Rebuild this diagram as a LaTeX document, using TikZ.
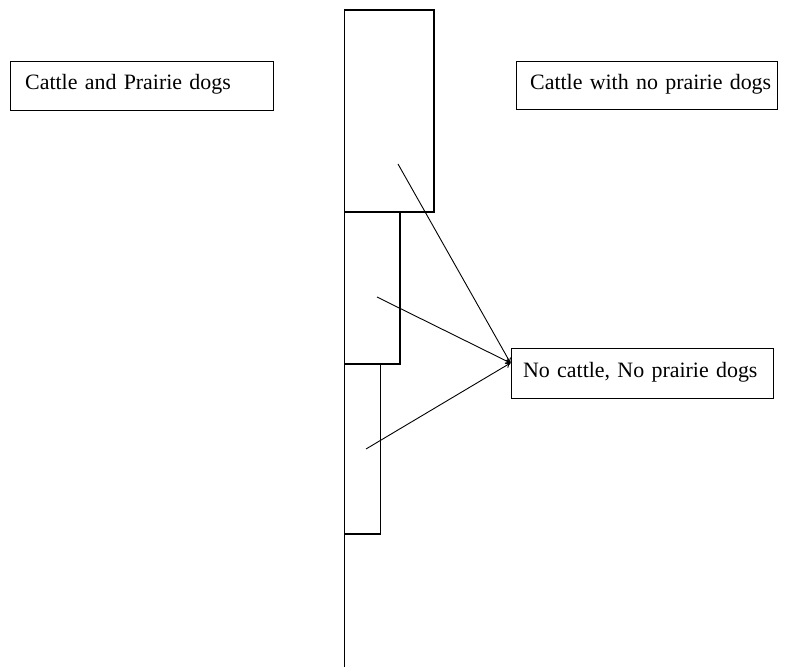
\documentclass[tikz,border=0pt]{standalone}
\usepackage{fontspec}
\setmainfont{Liberation Serif}
\usetikzlibrary{arrows.meta}
\begin{document}
\begin{tikzpicture}[x=1bp,y=-1bp,
  every path/.style={line width=1.2bp},
  label box/.style={draw,line width=1.3bp,anchor=north west,inner sep=0pt,
    font=\fontsize{22}{24}\selectfont,align=left,text height=15bp,text depth=8bp},
  strip/.style={draw,line width=1.2bp},
  link/.style={line width=0.9bp,-{To[length=5bp,width=6bp]}}]
\useasboundingbox (0,0) rectangle (788,667);
% label boxes
\node[label box,minimum width=263bp,minimum height=49bp,text width=262bp] (cp) at (10,61) {\hspace*{14bp}Cattle and Prairie dogs};
\node[label box,minimum width=261bp,minimum height=48bp,text width=260bp] (cn) at (516,61) {\hspace*{13bp}Cattle with no prairie dogs};
\node[label box,minimum width=262bp,minimum height=50bp,text width=261bp] (nc) at (511,348) {\hspace*{11bp}No cattle, No prairie dogs};
% strips
\draw[strip] (344.5,10) rectangle (434,212);
\draw[strip] (344.5,212) rectangle (400,364);
\draw[strip] (344.5,364) rectangle (380.5,534);
\draw (344.5,10) -- (344.5,667);
% connector start points
\coordinate (s1) at (398,164);
\coordinate (s2) at (377,297);
\coordinate (s3) at (366,449);
\coordinate (t) at (510.5,363);
\draw[link] (s1) -- (t);
\draw[link] (s2) -- (t);
\draw[link] (s3) -- (t);
\end{tikzpicture}
\end{document}
